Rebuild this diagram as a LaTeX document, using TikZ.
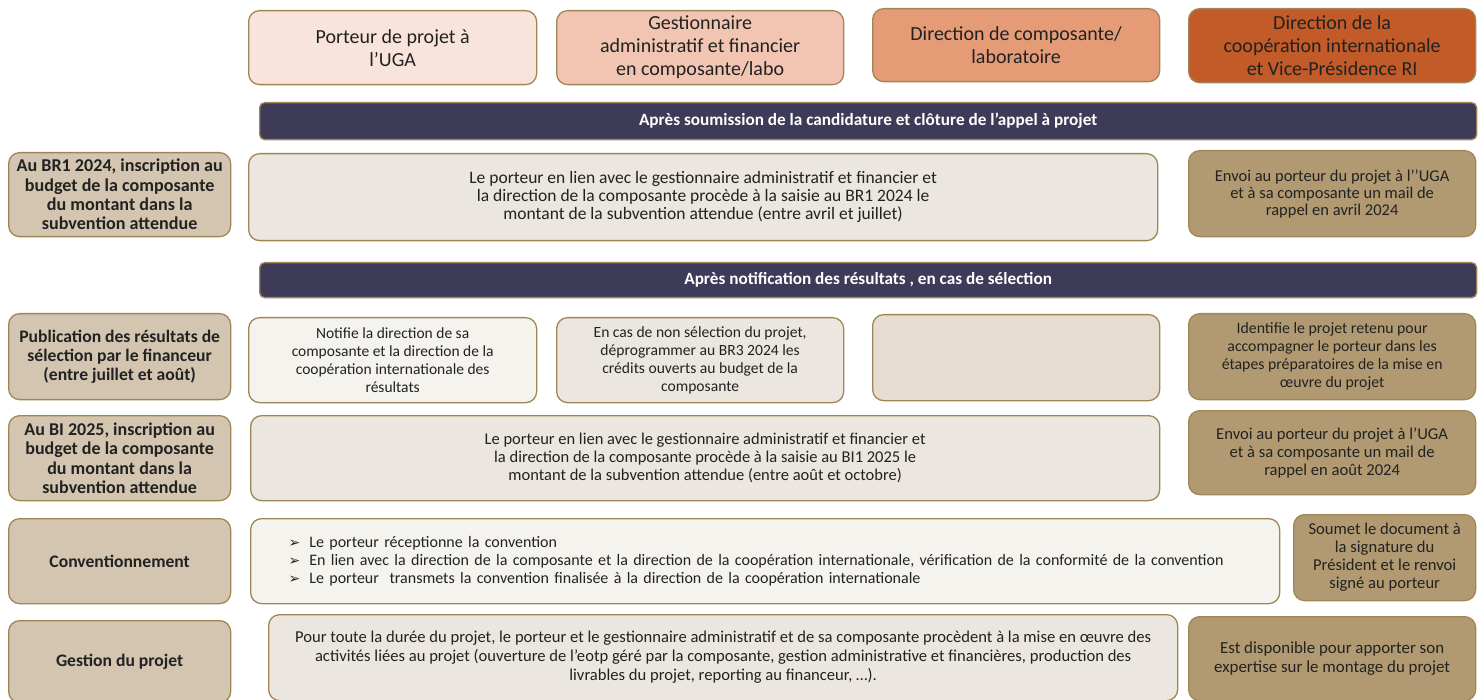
\documentclass[tikz,border=0pt]{standalone}
\usepackage{fontspec}
\setmainfont{Carlito}
\newfontfamily\dejavu{DejaVu Sans}
\definecolor{hA}{HTML}{F8E4DA}
\definecolor{hB}{HTML}{F1C5B1}
\definecolor{hC}{HTML}{E59B76}
\definecolor{hD}{HTML}{C25B28}
\definecolor{banner}{HTML}{3D3B57}
\definecolor{labelfill}{HTML}{D3C5AF}
\definecolor{rightfill}{HTML}{B19A72}
\definecolor{midfill}{HTML}{EBE6DF}
\definecolor{palefill}{HTML}{F5F3EE}
\definecolor{greyfill}{HTML}{E6DDD0}
\definecolor{edge}{HTML}{A08656}
\definecolor{ink}{HTML}{222222}
\tikzset{
  sz/.style 2 args={minimum width=#1pt, minimum height=#2pt},
  fs/.style 2 args={font=\fontsize{#1}{#2}\selectfont},
  bfs/.style 2 args={font=\bfseries\fontsize{#1}{#2}\selectfont},
  base/.style={draw=edge, line width=1.3pt, rounded corners=11pt, anchor=north west,
    inner sep=2pt, align=center, text=ink},
  headbox/.style={base, fs={20}{23}},
  bannerbox/.style={base, fill=banner, text=white, rounded corners=5pt, bfs={17.2}{20}},
  labelbox/.style={base, fill=labelfill, bfs={17.6}{19.2}},
  bodybox/.style={base, fs={16}{18}},
  rightbox/.style={base, fill=rightfill, fs={16.5}{18}},
}
\newcommand{\arr}{\hspace*{16pt}{\dejavu\fontsize{14}{18}\selectfont ➢}\hspace{9pt}}
\begin{document}
\begin{tikzpicture}[x=1pt,y=-1pt]
\useasboundingbox[fill=white] (0,0) rectangle (1483,700);
% headers
\node[headbox, fill=hA, sz={288}{74}] (h1) at (248,10) {Porteur de projet à\\l’UGA};
\node[headbox, fill=hB, sz={287}{74}] (h2) at (556,10) {Gestionnaire\\administratif et financier\\en composante/labo};
\node[headbox, fill=hC, sz={287}{73}] (h3) at (872,8) {Direction de composante/\\laboratoire};
\node[headbox, fill=hD, sz={287}{74}] (h4) at (1188,8) {Direction de la\\coopération internationale\\et Vice-Présidence RI};
% banner 1
\node[bannerbox, sz={1217}{37}] (b1) at (259,102) {Après soumission de la candidature et clôture de l’appel à projet};
% row BR1
\node[labelbox, bfs={18.1}{19.3}, sz={222}{84}] (l1) at (8,152) {Au BR1 2024, inscription au\\budget de la composante\\du montant dans la\\subvention attendue};
\node[bodybox, fs={17.5}{18}, fill=midfill, sz={909}{87}] (m1) at (248,153) {Le porteur en lien avec le gestionnaire administratif et financier et\\la direction de la composante procède à la saisie au BR1 2024 le\\montant de la subvention attendue (entre avril et juillet)};
\node[rightbox, fs={16.5}{17}, sz={287}{86}] (r1) at (1188,150) {Envoi au porteur du projet à l’’UGA\\et à sa composante un mail de\\rappel en avril 2024};
% banner 2
\node[bannerbox, sz={1217}{35}] (b2) at (259,262) {Après notification des résultats , en cas de sélection};
% row publication
\node[labelbox, sz={222}{86}] (l2) at (8,313) {Publication des résultats de\\sélection par le financeur\\(entre juillet et août)};
\node[bodybox, fs={15.5}{18}, fill=palefill, sz={288}{85}] (p1) at (248,317) {Notifie la direction de sa\\composante et la direction de la\\coopération internationale des\\résultats};
\node[bodybox, fs={15.6}{18}, fill=midfill, sz={287}{85}] (p2) at (556,317) {En cas de non sélection du projet,\\déprogrammer au BR3 2024 les\\crédits ouverts au budget de la\\composante};
\node[bodybox, fill=greyfill, sz={287}{86}] (p3) at (872,314) {};
\node[rightbox, fs={15.8}{18}, sz={287}{86}] (r2) at (1188,313) {Identifie le projet retenu pour\\accompagner le porteur dans les\\étapes préparatoires de la mise en\\œuvre du projet};
% row BI
\node[labelbox, bfs={18}{19.3}, sz={222}{85}] (l3) at (8,415) {Au BI 2025, inscription au\\budget de la composante\\du montant dans la\\subvention attendue};
\node[bodybox, fs={16.5}{18}, fill=midfill, sz={909}{85}] (m3) at (250,415) {Le porteur en lien avec le gestionnaire administratif et financier et\\la direction de la composante procède à la saisie au BI1 2025 le\\montant de la subvention attendue (entre août et octobre)};
\node[rightbox, fs={16.6}{18}, sz={287}{84}] (r3) at (1188,410) {Envoi au porteur du projet à l’UGA\\et à sa composante un mail de\\rappel en août 2024};
% row conventionnement
\node[labelbox, sz={222}{85}] (l4) at (8,518) {Conventionnement};
\node[bodybox, fs={16}{18}, fill=palefill, sz={1029}{85}, align=left, text width=985pt] (m4) at (250,518) {%
\arr Le porteur réceptionne la convention\\
\arr En lien avec la direction de la composante et la direction de la coopération internationale, vérification de la conformité de la convention\\
\arr Le porteur\ \ transmets la convention finalisée à la direction de la coopération internationale};
\node[rightbox, fs={16.6}{18}, sz={182}{86}] (r4) at (1293,514) {Soumet le document à\\la signature du\\Président et le renvoi\\signé au porteur};
% row gestion
\node[labelbox, sz={222}{82}] (l5) at (8,620) {Gestion du projet};
\node[bodybox, fs={16.6}{19}, fill=midfill, sz={909}{86}] (m5) at (268,614) {Pour toute la durée du projet, le porteur et le gestionnaire administratif et de sa composante procèdent à la mise en œuvre des\\activités liées au projet (ouverture de l’eotp géré par la composante, gestion administrative et financières, production des\\livrables du projet, reporting au financeur, …).};
\node[rightbox, fs={16.9}{19}, sz={287}{84}] (r5) at (1188,616) {Est disponible pour apporter son\\expertise sur le montage du projet};
\end{tikzpicture}
\end{document}
